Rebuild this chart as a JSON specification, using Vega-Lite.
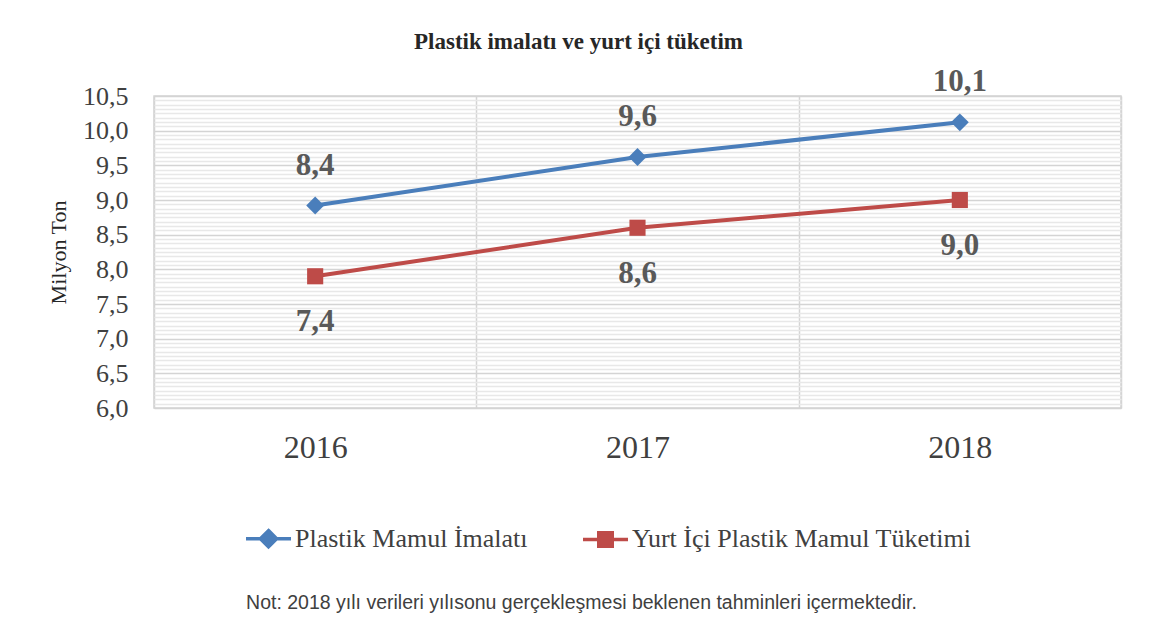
{
  "$schema": "https://vega.github.io/schema/vega-lite/v6.json",
  "width": 967,
  "height": 312,
  "autosize": {"type": "none"},
  "padding": {"left": 154, "top": 96, "right": 30, "bottom": 209},
  "background": "white",
  "config": {"view": {"stroke": "#d4d4d4", "strokeWidth": 1.5}},
  "title": {
    "text": "Plastik imalatı ve yurt içi tüketim",
    "font": "Liberation Serif",
    "fontSize": 23,
    "fontWeight": "bold",
    "color": "#262626",
    "anchor": "middle",
    "dx": -59,
    "offset": 12
  },
  "data": {
    "values": [
      {"year": "2016", "series": "Plastik Mamul İmalatı", "value": 8.92, "label": "8,4"},
      {"year": "2017", "series": "Plastik Mamul İmalatı", "value": 9.62, "label": "9,6"},
      {"year": "2018", "series": "Plastik Mamul İmalatı", "value": 10.12, "label": "10,1"},
      {"year": "2016", "series": "Yurt İçi Plastik Mamul Tüketimi", "value": 7.9, "label": "7,4"},
      {"year": "2017", "series": "Yurt İçi Plastik Mamul Tüketimi", "value": 8.6, "label": "8,6"},
      {"year": "2018", "series": "Yurt İçi Plastik Mamul Tüketimi", "value": 9.0, "label": "9,0"}
    ]
  },
  "encoding": {
    "x": {
      "field": "year",
      "type": "nominal",
      "scale": {"type": "band", "paddingInner": 0, "paddingOuter": 0},
      "axis": {
        "labelAngle": 0,
        "labelFont": "Liberation Serif",
        "labelFontSize": 32,
        "labelColor": "#404040",
        "labelPadding": 24,
        "ticks": false,
        "domain": false,
        "grid": true,
        "gridColor": "#d4d4d4",
        "gridWidth": 1.5,
        "tickBand": "extent",
        "title": "Not: 2018 yılı verileri yılısonu gerçekleşmesi beklenen tahminleri içermektedir.",
        "titleFont": "Liberation Sans",
        "titleFontSize": 19.5,
        "titleFontWeight": "normal",
        "titleColor": "#404040",
        "titleX": 427,
        "titleY": 194,
        "titleBaseline": "middle",
        "titleAnchor": "middle"
      }
    },
    "y": {
      "field": "value",
      "type": "quantitative",
      "scale": {"domain": [6, 10.5], "nice": false, "zero": false},
      "axis": {
        "values": [6, 6.0625, 6.125, 6.1875, 6.25, 6.3125, 6.375, 6.4375, 6.5, 6.5625, 6.625, 6.6875, 6.75, 6.8125, 6.875, 6.9375, 7, 7.0625, 7.125, 7.1875, 7.25, 7.3125, 7.375, 7.4375, 7.5, 7.5625, 7.625, 7.6875, 7.75, 7.8125, 7.875, 7.9375, 8, 8.0625, 8.125, 8.1875, 8.25, 8.3125, 8.375, 8.4375, 8.5, 8.5625, 8.625, 8.6875, 8.75, 8.8125, 8.875, 8.9375, 9, 9.0625, 9.125, 9.1875, 9.25, 9.3125, 9.375, 9.4375, 9.5, 9.5625, 9.625, 9.6875, 9.75, 9.8125, 9.875, 9.9375, 10, 10.0625, 10.125, 10.1875, 10.25, 10.3125, 10.375, 10.4375, 10.5],
        "labelExpr": "abs(datum.value*2 - round(datum.value*2)) < 0.001 ? replace(format(datum.value, '.1f'), '.', ',') : ''",
        "labelFont": "Liberation Serif",
        "labelFontSize": 26,
        "labelColor": "#404040",
        "labelPadding": 26,
        "ticks": false,
        "domain": false,
        "grid": true,
        "gridColor": {"condition": {"test": "abs(datum.value*2 - round(datum.value*2)) < 0.001", "value": "#d4d4d4"}, "value": "#e8e8e8"},
        "gridWidth": 1.5,
        "labelOverlap": false,
        "title": "Milyon Ton",
        "titleFont": "Liberation Serif",
        "titleFontSize": 22,
        "titleFontWeight": "normal",
        "titleColor": "#262626",
        "titlePadding": 12
      }
    }
  },
  "layer": [
    {
      "mark": {"type": "line", "strokeWidth": 4},
      "encoding": {
        "color": {
          "field": "series",
          "type": "nominal",
          "scale": {"domain": ["Plastik Mamul İmalatı", "Yurt İçi Plastik Mamul Tüketimi"], "range": ["#4A7EBB", "#BE4B48"]},
          "legend": {
            "title": null,
            "orient": "none",
            "direction": "horizontal",
            "legendX": 90,
            "legendY": 418,
            "columns": 2,
            "columnPadding": 48,
            "symbolSize": 2025,
            "symbolStrokeWidth": 3.5,
            "labelFont": "Liberation Serif",
            "labelFontSize": 26,
            "labelColor": "#404040",
            "labelOffset": 2,
            "labelLimit": 500,
            "encode": {
              "symbols": {
                "update": {
                  "shape": {"signal": "datum.value === 'Plastik Mamul İmalatı' ? 'M-1,0H1M0,-0.36L0.36,0L0,0.36L-0.36,0Z' : 'M-1,0H1M-0.3,-0.3H0.3V0.3H-0.3Z'"},
                  "fill": {"scale": "color", "field": "value"},
                  "fillOpacity": {"value": 1}
                }
              }
            }
          }
        }
      }
    },
    {
      "transform": [{"filter": "datum.series === 'Plastik Mamul İmalatı'"}],
      "mark": {"type": "point", "shape": "diamond", "filled": true, "opacity": 1, "size": 320, "color": "#4A7EBB"}
    },
    {
      "transform": [{"filter": "datum.series === 'Yurt İçi Plastik Mamul Tüketimi'"}],
      "mark": {"type": "point", "shape": "square", "filled": true, "opacity": 1, "size": 260, "color": "#BE4B48"}
    },
    {
      "transform": [{"filter": "datum.series === 'Plastik Mamul İmalatı'"}],
      "mark": {"type": "text", "font": "Liberation Serif", "fontSize": 31, "fontWeight": "bold", "color": "#595959", "dy": -40},
      "encoding": {"text": {"field": "label"}}
    },
    {
      "transform": [{"filter": "datum.series === 'Yurt İçi Plastik Mamul Tüketimi'"}],
      "mark": {"type": "text", "font": "Liberation Serif", "fontSize": 31, "fontWeight": "bold", "color": "#595959", "dy": 46},
      "encoding": {"text": {"field": "label"}}
    }
  ]
}
